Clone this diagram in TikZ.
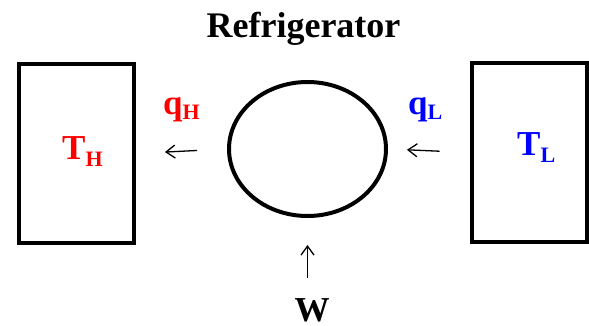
\documentclass[tikz,border=0pt]{standalone}
\usepackage{fontspec}
\setmainfont{Liberation Serif}
\usepackage{tikz}
\usetikzlibrary{arrows.meta,positioning,shapes.geometric}
\usepackage{xcolor}
\definecolor{hotred}{RGB}{255,0,0}
\definecolor{coldblue}{RGB}{0,0,255}
\newcommand{\lowsub}[2][5pt]{\raisebox{-#1}{\fontsize{22}{22}\selectfont #2}}

\begin{document}
\begin{tikzpicture}[x=1pt, y=-1pt,
    every node/.style={font=\fontsize{35}{35}\selectfont\bfseries, inner sep=0pt},
    reservoir/.style={draw, line width=4pt, minimum width=115pt, minimum height=179pt},
    flow/.style={-{Straight Barb[length=9pt,width=13pt,line width=1.3pt]}, line width=1.3pt}]
          \useasboundingbox (0,0) rectangle (589,326);
          % reservoirs and the cycle
          \node[reservoir] (hot) at (76.5,153.5) {};
          \node[reservoir] (cold) at (529,152.5) {};
          \node[draw, ellipse, line width=4pt, minimum width=157pt, minimum height=134pt] (ring) at (307.5,149) {};
          % labels
          \node[anchor=base, font=\fontsize{36}{36}\selectfont\bfseries] (title) at (303.5,38) {Refrigerator};
          \node[anchor=base west, hotred] (TH) at (62,160) {T\lowsub[7pt]{H}};
          \node[anchor=base west, coldblue] (TL) at (517,156) {T\lowsub[7pt]{L}};
          \node[anchor=base west, hotred] (qH) at (163,115) {q\lowsub{H}};
          \node[anchor=base west, coldblue] (qL) at (408,115) {q\lowsub{L}};
          \node[anchor=base] (work) at (312,321) {W};
          % heat and work flows
          \draw[flow, shorten <=30pt, shorten >=29pt] (ring.west) -- (hot.east);
          \draw[flow, shorten <=30pt, shorten >=19pt] (cold.west) -- (ring.east);
          \draw[flow, shorten <=20pt, shorten >=27pt] (ring.south |- work.north) -- (ring.south);
        \end{tikzpicture}
\end{document}
